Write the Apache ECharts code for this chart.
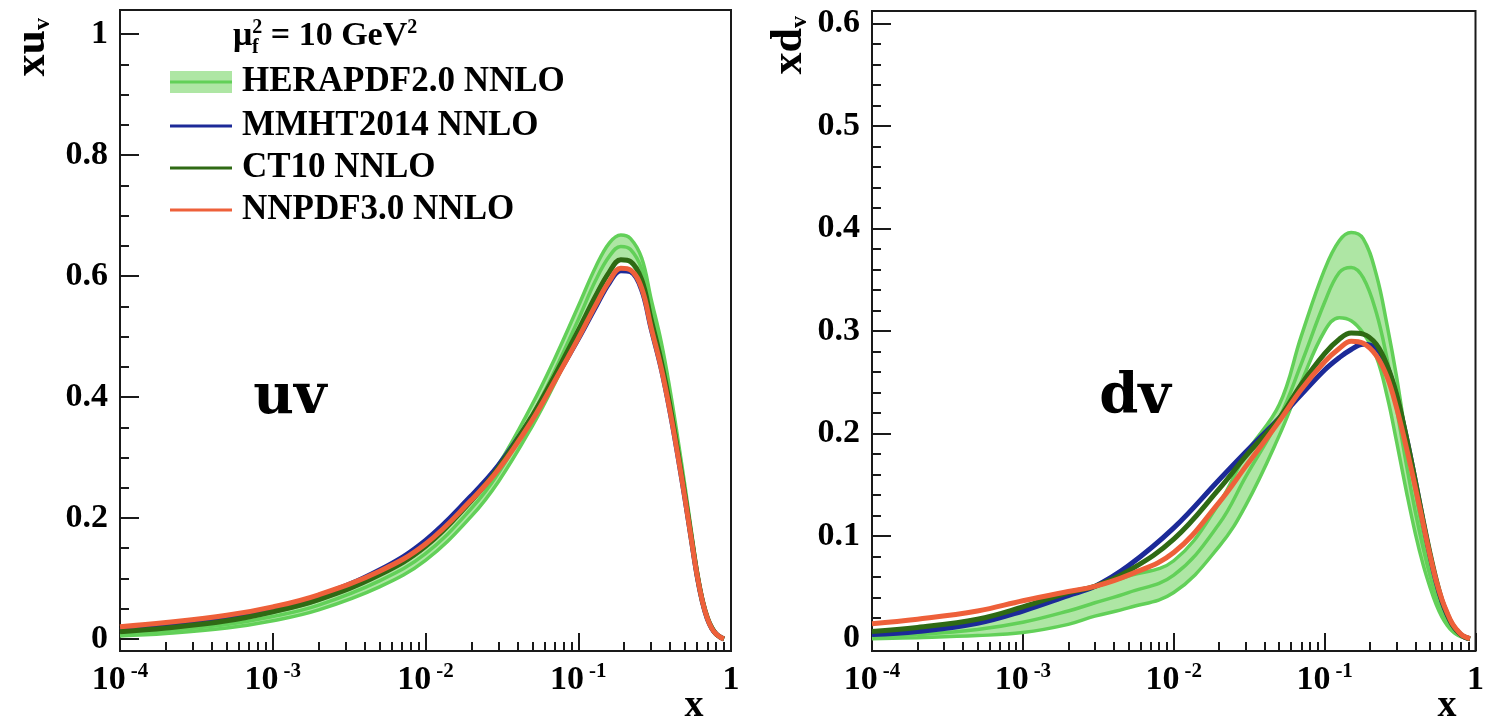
<!DOCTYPE html>
<html><head><meta charset="utf-8">
<script src="https://cdn.jsdelivr.net/npm/echarts@6/dist/echarts.min.js"></script>
<style>html,body{margin:0;padding:0;background:#fff}#c{width:1487px;height:721px}</style>
</head><body><div id="c"></div>
<script>
// ---------------- data ----------------
const X_MAJOR = [1e-4, 1e-3, 1e-2, 1e-1, 1];
const X_MINOR = [];
[1e-4, 1e-3, 1e-2, 1e-1].forEach(d => { for (let k = 2; k <= 9; k++) X_MINOR.push(+(d * k).toPrecision(3)); });

const UV_Y_MAJOR = [0, 0.2, 0.4, 0.6, 0.8, 1];
const UV_Y_MINOR = [0.05, 0.1, 0.15, 0.25, 0.3, 0.35, 0.45, 0.5, 0.55, 0.65, 0.7, 0.75, 0.85, 0.9, 0.95];
const DV_Y_MAJOR = [0, 0.1, 0.2, 0.3, 0.4, 0.5, 0.6];
const DV_Y_MINOR = [0.02, 0.04, 0.06, 0.08, 0.12, 0.14, 0.16, 0.18, 0.22, 0.24, 0.26, 0.28, 0.32, 0.34, 0.36, 0.38, 0.42, 0.44, 0.46, 0.48, 0.52, 0.54, 0.56, 0.58];

// u valence, mu_f^2 = 10 GeV^2
const X_UV = [1e-4, 2e-4, 5e-4, 1e-3, 2e-3, 5e-3, 1e-2, 2e-2, 3e-2, 5e-2, 7e-2, 0.1, 0.13, 0.16, 0.19, 0.22, 0.26, 0.3, 0.35, 0.4, 0.45, 0.5, 0.55, 0.6, 0.65, 0.7, 0.75, 0.8, 0.85, 0.9];
const UV_HERA_LO  = [0.005, 0.009, 0.018, 0.030, 0.048, 0.086, 0.130, 0.203, 0.260, 0.352, 0.422, 0.505, 0.568, 0.608, 0.626, 0.622, 0.592, 0.526, 0.457, 0.382, 0.306, 0.234, 0.166, 0.106, 0.062, 0.034, 0.017, 0.008, 0.003, 0.0];
const UV_HERA_MID = [0.010, 0.014, 0.024, 0.037, 0.056, 0.096, 0.141, 0.216, 0.274, 0.370, 0.443, 0.528, 0.593, 0.633, 0.649, 0.644, 0.612, 0.545, 0.475, 0.397, 0.318, 0.243, 0.173, 0.110, 0.064, 0.035, 0.018, 0.008, 0.003, 0.0];
const UV_HERA_HI  = [0.015, 0.019, 0.030, 0.044, 0.064, 0.106, 0.152, 0.229, 0.288, 0.388, 0.463, 0.550, 0.615, 0.655, 0.668, 0.662, 0.630, 0.562, 0.490, 0.410, 0.329, 0.252, 0.179, 0.114, 0.067, 0.037, 0.019, 0.009, 0.003, 0.0];
const UV_MMHT  = [0.014, 0.021, 0.034, 0.050, 0.071, 0.114, 0.163, 0.237, 0.287, 0.367, 0.428, 0.496, 0.549, 0.589, 0.609, 0.607, 0.577, 0.513, 0.446, 0.374, 0.301, 0.231, 0.164, 0.104, 0.061, 0.033, 0.017, 0.008, 0.003, 0.0];
const UV_CT10  = [0.012, 0.018, 0.030, 0.045, 0.065, 0.106, 0.153, 0.229, 0.283, 0.369, 0.435, 0.510, 0.567, 0.607, 0.627, 0.624, 0.594, 0.528, 0.458, 0.384, 0.308, 0.236, 0.168, 0.107, 0.063, 0.035, 0.018, 0.008, 0.003, 0.0];
const UV_NNPDF = [0.020, 0.027, 0.039, 0.053, 0.073, 0.112, 0.157, 0.230, 0.280, 0.362, 0.426, 0.497, 0.552, 0.592, 0.613, 0.610, 0.580, 0.515, 0.447, 0.375, 0.302, 0.232, 0.165, 0.105, 0.062, 0.034, 0.017, 0.008, 0.003, 0.0];

// d valence
const X_DV = [1e-4, 2e-4, 5e-4, 1e-3, 2e-3, 3e-3, 5e-3, 1e-2, 2e-2, 3e-2, 5e-2, 7e-2, 0.1, 0.125, 0.15, 0.18, 0.22, 0.26, 0.3, 0.35, 0.4, 0.45, 0.5, 0.55, 0.6, 0.65, 0.7, 0.75, 0.8, 0.85, 0.92];
const DV_HERA_LO  = [0.000, 0.001, 0.003, 0.006, 0.014, 0.022, 0.030, 0.045, 0.090, 0.130, 0.198, 0.250, 0.300, 0.313, 0.310, 0.298, 0.275, 0.236, 0.192, 0.142, 0.102, 0.072, 0.050, 0.033, 0.021, 0.013, 0.0075, 0.004, 0.002, 0.0007, 0.0];
const DV_HERA_MID = [0.002, 0.004, 0.009, 0.016, 0.027, 0.035, 0.045, 0.062, 0.112, 0.158, 0.215, 0.268, 0.328, 0.357, 0.362, 0.352, 0.318, 0.272, 0.224, 0.168, 0.123, 0.088, 0.061, 0.041, 0.027, 0.017, 0.010, 0.0055, 0.0027, 0.001, 0.0];
const DV_HERA_HI  = [0.006, 0.010, 0.018, 0.028, 0.042, 0.051, 0.061, 0.076, 0.132, 0.180, 0.228, 0.295, 0.360, 0.388, 0.396, 0.390, 0.355, 0.305, 0.255, 0.192, 0.142, 0.103, 0.072, 0.048, 0.031, 0.019, 0.011, 0.006, 0.003, 0.001, 0.0];
const DV_MMHT  = [0.004, 0.007, 0.015, 0.027, 0.042, 0.051, 0.071, 0.108, 0.155, 0.182, 0.215, 0.238, 0.262, 0.274, 0.282, 0.287, 0.283, 0.265, 0.236, 0.195, 0.153, 0.114, 0.081, 0.055, 0.036, 0.023, 0.014, 0.008, 0.004, 0.0015, 0.0];
const DV_CT10  = [0.007, 0.011, 0.019, 0.031, 0.045, 0.051, 0.066, 0.097, 0.146, 0.178, 0.215, 0.248, 0.278, 0.292, 0.298, 0.297, 0.287, 0.266, 0.238, 0.195, 0.153, 0.115, 0.083, 0.057, 0.037, 0.024, 0.014, 0.008, 0.004, 0.0015, 0.0];
const DV_NNPDF = [0.0146, 0.019, 0.027, 0.037, 0.046, 0.051, 0.062, 0.084, 0.133, 0.168, 0.212, 0.243, 0.270, 0.283, 0.290, 0.288, 0.276, 0.255, 0.225, 0.185, 0.147, 0.112, 0.081, 0.056, 0.038, 0.025, 0.015, 0.009, 0.0045, 0.0018, 0.0];

const LEGEND_NAMES = ['HERAPDF2.0 NNLO', 'MMHT2014 NNLO', 'CT10 NNLO', 'NNPDF3.0 NNLO'];

// ---------------- styles ----------------
const FONT = '"Liberation Serif", "Times New Roman", serif';
const C_HERA = '#62d058';
const C_HERA_FILL = '#aee6a4';
const C_MMHT = '#1c2a98';
const C_CT10 = '#2f6a14';
const C_NNPDF = '#ee603a';
const AX = '#1a1a1a';
const SMOOTH = 0.4;

const pair = (xs, ys) => xs.map((x, i) => [x, ys[i]]);

function xAxes(gi) {
  const fmt = v => {
    const e = Math.round(Math.log10(v));
    return e === 0 ? '{a|1}' : '{a|10}{s|' + e + '}';
  };
  return [
    {
      type: 'log', logBase: 10, gridIndex: gi, position: 'bottom', min: 1e-4, max: 1,
      axisLine: { show: false, onZero: false }, splitLine: { show: false },
      axisTick: { show: true, inside: true, length: 18, lineStyle: { color: AX, width: 2 }, customValues: X_MAJOR },
      axisLabel: {
        customValues: X_MAJOR, margin: 10, formatter: fmt, showMinLabel: true, showMaxLabel: true,
        rich: {
          a: { fontFamily: FONT, fontWeight: 'bold', fontSize: 34, color: '#000', lineHeight: 38 },
          s: { fontFamily: FONT, fontWeight: 'bold', fontSize: 21, color: '#000', verticalAlign: 'top', padding: [0, 0, 0, 5] }
        }
      }
    },
    {
      type: 'log', logBase: 10, gridIndex: gi, position: 'bottom', min: 1e-4, max: 1,
      axisLine: { show: false, onZero: false }, splitLine: { show: false },
      axisTick: { show: true, inside: true, length: 9, lineStyle: { color: AX, width: 2 }, customValues: X_MINOR },
      axisLabel: { show: false }
    }
  ];
}
function yAxes(gi, min, max, major, minor) {
  return [
    {
      type: 'value', gridIndex: gi, position: 'left', min: min, max: max,
      axisLine: { show: false, onZero: false }, splitLine: { show: false },
      axisTick: { show: true, inside: true, length: 19, lineStyle: { color: AX, width: 2 }, customValues: major },
      axisLabel: {
        customValues: major, margin: 12,
        formatter: v => String(+v.toFixed(2)),
        fontFamily: FONT, fontWeight: 'bold', fontSize: 34, color: '#000'
      }
    },
    {
      type: 'value', gridIndex: gi, position: 'left', offset: 0, min: min, max: max,
      axisLine: { show: false, onZero: false }, splitLine: { show: false },
      axisTick: { show: true, inside: true, length: 9, lineStyle: { color: AX, width: 2 }, customValues: minor },
      axisLabel: { show: false }
    }
  ];
}

function bandFill(xi, yi, xs, lo, hi) {
  return {
    type: 'custom', xAxisIndex: xi, yAxisIndex: yi, clip: true, silent: true, animation: false,
    data: xs.map((x, i) => [x, lo[i], hi[i]]),
    encode: { x: 0, y: [1, 2] },
    renderItem: (params, api) => {
      if (params.dataIndex !== 0) return null;
      const top = xs.map((x, i) => api.coord([x, hi[i]]));
      const bot = xs.map((x, i) => api.coord([x, lo[i]])).reverse();
      return { type: 'polygon', shape: { points: top.concat(bot), smooth: 0.3 }, style: { fill: C_HERA_FILL } };
    }
  };
}

function panelSeries(gi, xs, lo, mid, hi, mmht, ct10, nnpdf) {
  const xi = gi * 2, yi = gi * 2;
  const base = { type: 'line', xAxisIndex: xi, yAxisIndex: yi, showSymbol: false, symbol: 'none', smooth: SMOOTH, animation: false, silent: true };
  return [
    bandFill(xi, yi, xs, lo, hi),
    Object.assign({}, base, { name: LEGEND_NAMES[0] + ' low', data: pair(xs, lo), lineStyle: { color: C_HERA, width: 3.5 } }),
    Object.assign({}, base, { name: LEGEND_NAMES[0] + ' high', data: pair(xs, hi), lineStyle: { color: C_HERA, width: 3.5 } }),
    Object.assign({}, base, { name: LEGEND_NAMES[0], data: pair(xs, mid), lineStyle: { color: C_HERA, width: 3.5 } }),
    Object.assign({}, base, { name: LEGEND_NAMES[1], data: pair(xs, mmht), lineStyle: { color: C_MMHT, width: 5 } }),
    Object.assign({}, base, { name: LEGEND_NAMES[2], data: pair(xs, ct10), lineStyle: { color: C_CT10, width: 5 } }),
    Object.assign({}, base, { name: LEGEND_NAMES[3], data: pair(xs, nnpdf), lineStyle: { color: C_NNPDF, width: 5 } })
  ];
}

// legend rows
const legendRows = [82, 126, 168, 210];
const legendGraphics = [];
legendGraphics.push({ type: 'rect', shape: { x: 170, y: legendRows[0] - 11, width: 62, height: 22 }, style: { fill: C_HERA_FILL } });
legendGraphics.push({ type: 'line', shape: { x1: 170, y1: legendRows[0], x2: 232, y2: legendRows[0] }, style: { stroke: C_HERA, lineWidth: 3 } });
[C_MMHT, C_CT10, C_NNPDF].forEach((c, i) => {
  legendGraphics.push({ type: 'line', shape: { x1: 170, y1: legendRows[i + 1], x2: 232, y2: legendRows[i + 1] }, style: { stroke: c, lineWidth: 3 } });
});
LEGEND_NAMES.forEach((n, i) => {
  legendGraphics.push({ type: 'text', x: 242, y: legendRows[i], style: { text: n, font: 'bold 35px ' + FONT, fill: '#000', verticalAlign: 'middle', align: 'left' } });
});
// mu_f^2 = 10 GeV^2
legendGraphics.push({
  type: 'text', x: 233, y: 36,
  style: {
    text: '{m|μ}{p|2}{t| = 10 GeV}{p|2}', verticalAlign: 'middle', align: 'left',
    rich: {
      m: { font: 'bold 34px ' + FONT, fill: '#000', lineHeight: 36 },
      p: { font: 'bold 20px ' + FONT, fill: '#000', verticalAlign: 'top' },
      t: { font: 'bold 34px ' + FONT, fill: '#000', lineHeight: 36 }
    }
  }
});
legendGraphics.push({ type: 'text', x: 252, y: 48, style: { text: 'f', font: 'bold 20px ' + FONT, fill: '#000', align: 'left', verticalAlign: 'middle' } });

const titleGraphics = [
  { type: 'text', x: 33, y: 18, rotation: Math.PI / 2,
    style: { text: '{a|xu}{b|v}', align: 'right', verticalAlign: 'middle',
      rich: { a: { font: 'bold 44px ' + FONT, fill: '#000', lineHeight: 44 }, b: { font: 'bold 24px ' + FONT, fill: '#000', verticalAlign: 'bottom' } } } },
  { type: 'text', x: 790, y: 16, rotation: Math.PI / 2,
    style: { text: '{a|xd}{b|v}', align: 'right', verticalAlign: 'middle',
      rich: { a: { font: 'bold 44px ' + FONT, fill: '#000', lineHeight: 44 }, b: { font: 'bold 24px ' + FONT, fill: '#000', verticalAlign: 'bottom' } } } },
  { type: 'text', x: 694, y: 706, style: { text: 'x', font: 'bold 38px ' + FONT, fill: '#000', align: 'center', verticalAlign: 'middle' } },
  { type: 'text', x: 1447, y: 706, style: { text: 'x', font: 'bold 38px ' + FONT, fill: '#000', align: 'center', verticalAlign: 'middle' } },
  { type: 'text', x: 290, y: 398, style: { text: 'uv', font: 'bold 56px "DejaVu Serif", serif', fill: '#000', align: 'center', verticalAlign: 'middle' } },
  { type: 'text', x: 1135, y: 398, style: { text: 'dv', font: 'bold 56px "DejaVu Serif", serif', fill: '#000', align: 'center', verticalAlign: 'middle' } }
];

const chart = echarts.init(document.getElementById('c'), null, { renderer: 'canvas' });
chart.setOption({
  backgroundColor: '#fff',
  animation: false,
  grid: [
    { left: 120, top: 10, width: 611, height: 641, show: true, borderColor: AX, borderWidth: 2, backgroundColor: 'transparent', containLabel: false },
    { left: 872, top: 11, width: 611, height: 640, show: true, borderColor: AX, borderWidth: 2, backgroundColor: 'transparent', containLabel: false }
  ],
  xAxis: [].concat(xAxes(0), xAxes(1)),
  yAxis: [].concat(yAxes(0, -0.02, 1.04, UV_Y_MAJOR, UV_Y_MINOR), yAxes(1, -0.012, 0.612, DV_Y_MAJOR, DV_Y_MINOR)),
  series: [].concat(
    panelSeries(0, X_UV, UV_HERA_LO, UV_HERA_MID, UV_HERA_HI, UV_MMHT, UV_CT10, UV_NNPDF),
    panelSeries(1, X_DV, DV_HERA_LO, DV_HERA_MID, DV_HERA_HI, DV_MMHT, DV_CT10, DV_NNPDF)
  ),
  graphic: legendGraphics.concat(titleGraphics)
});
</script>
</body></html>
